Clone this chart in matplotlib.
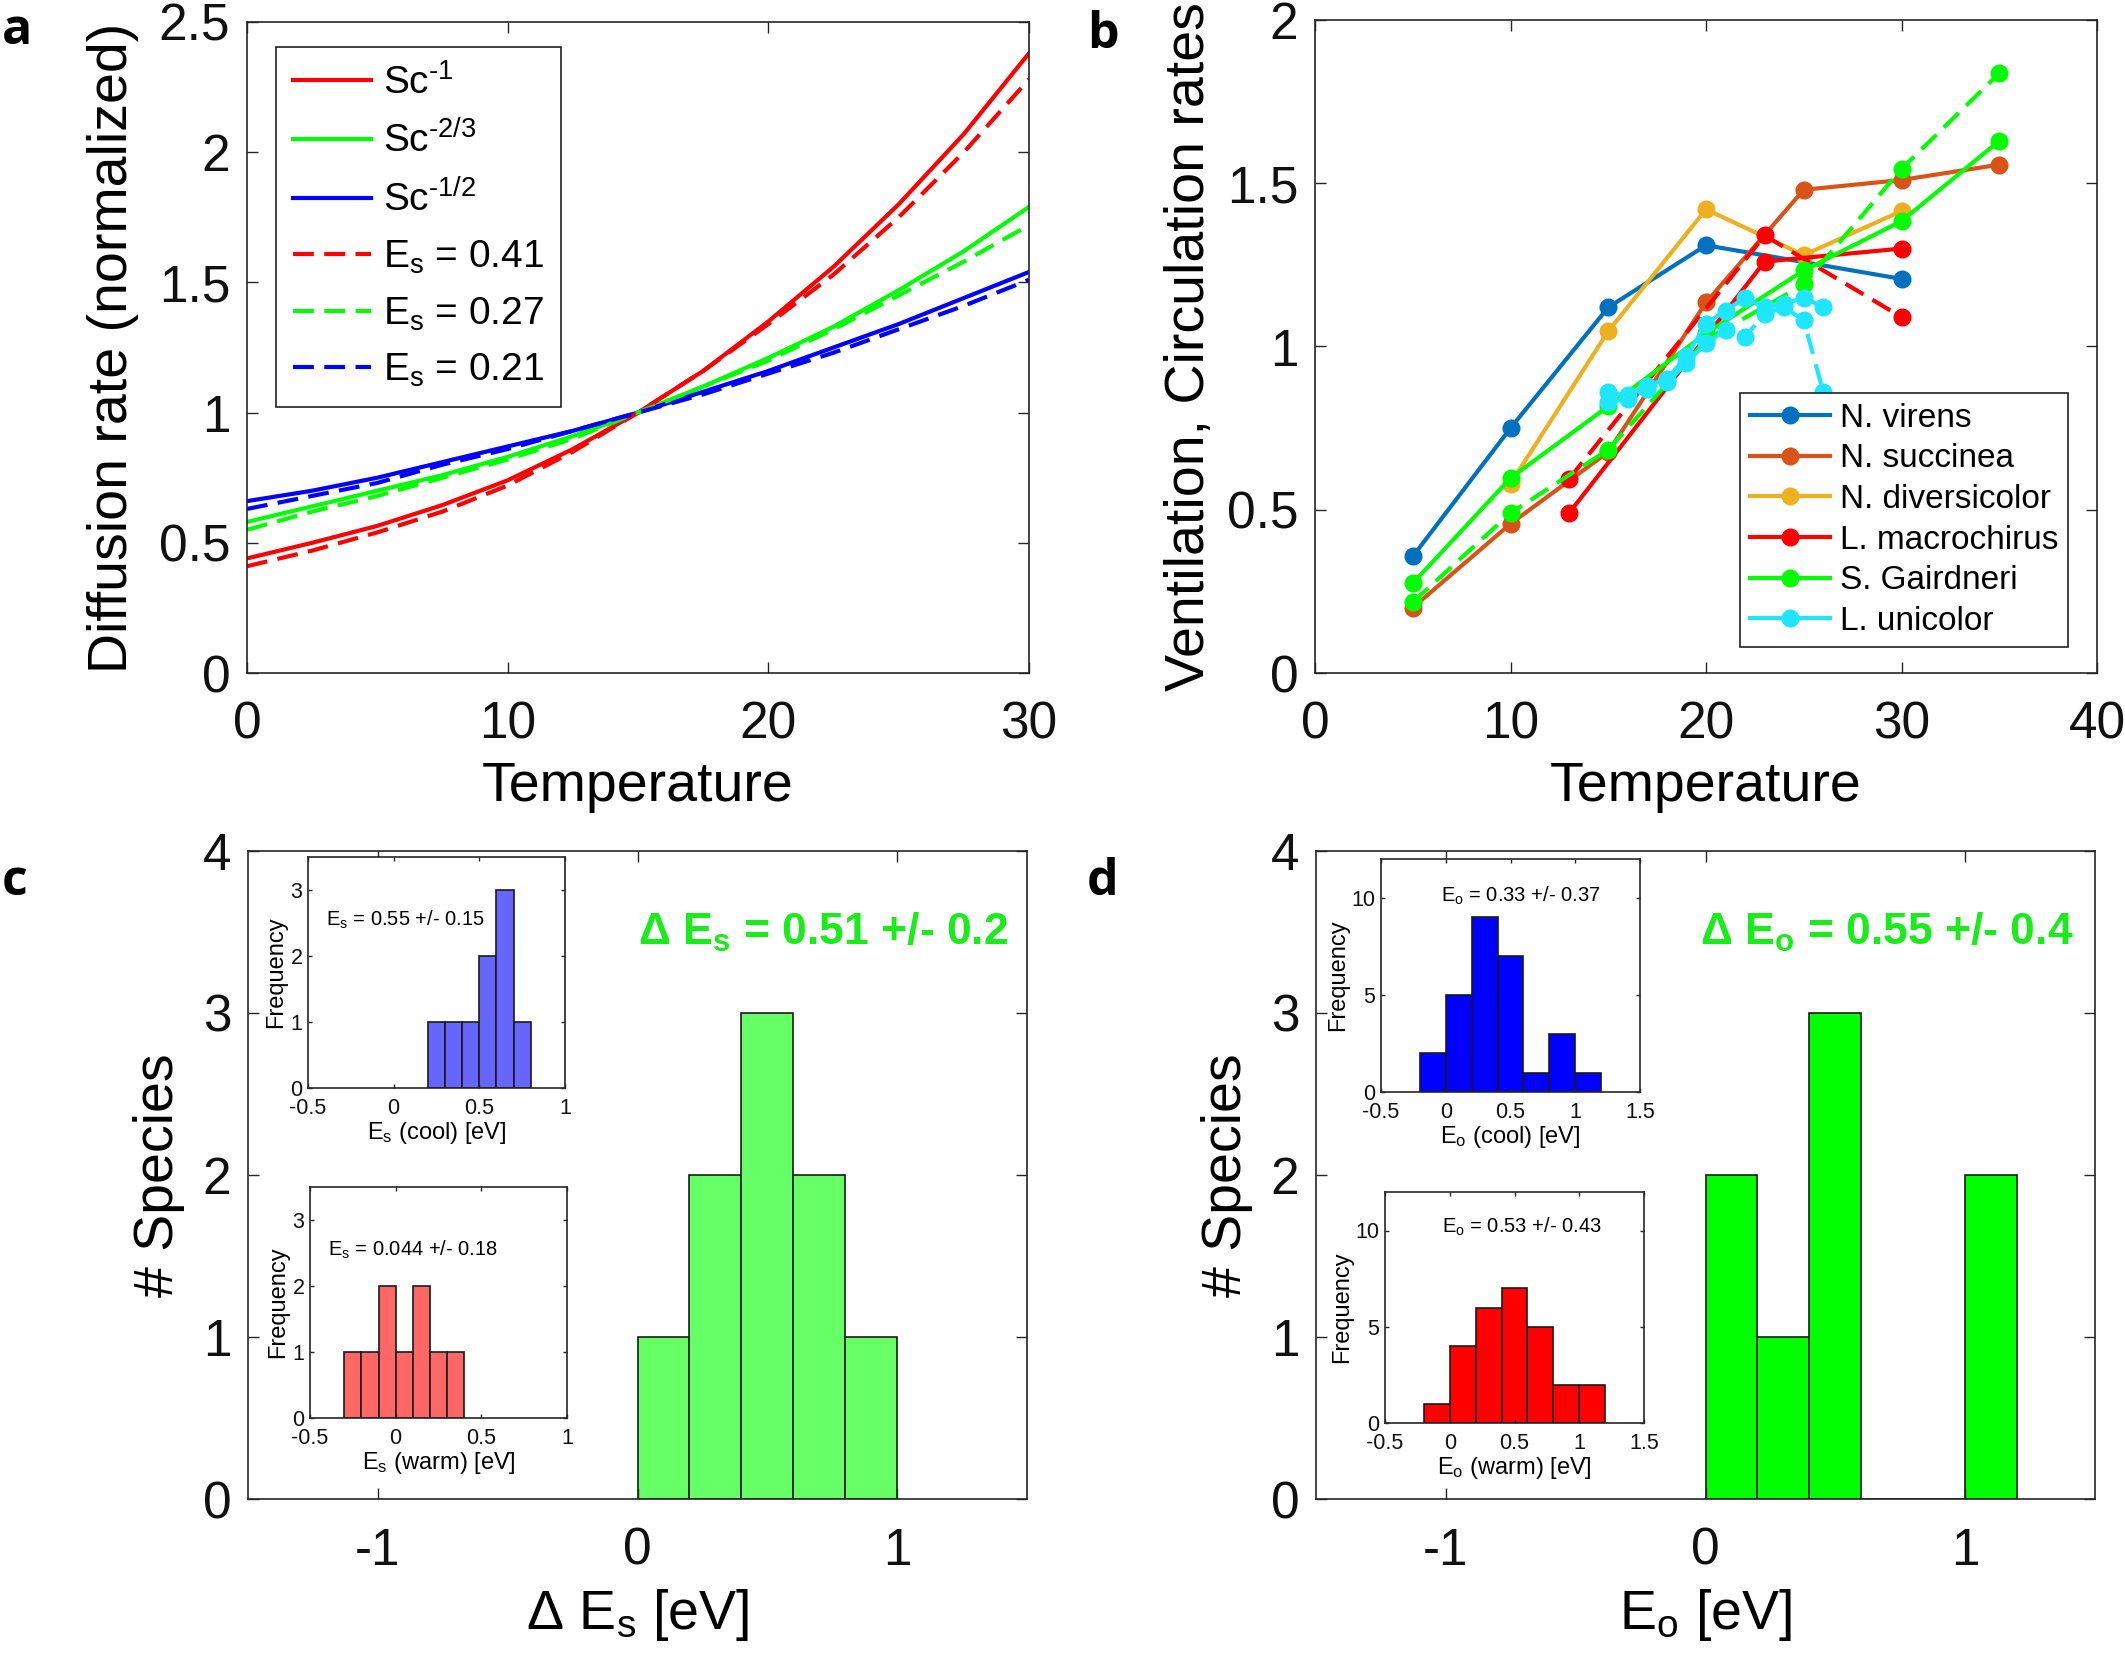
import numpy as np
import matplotlib
matplotlib.use('Agg')
import matplotlib.pyplot as plt
from matplotlib.ticker import FormatStrFormatter

plt.rcParams['font.family'] = ['Liberation Sans', 'DejaVu Sans']
plt.rcParams['mathtext.fontset'] = 'custom'
plt.rcParams['mathtext.rm'] = 'Liberation Sans'
plt.rcParams['mathtext.it'] = 'Liberation Sans'
plt.rcParams['mathtext.bf'] = 'Liberation Sans:bold'
plt.rcParams['mathtext.default'] = 'regular'
plt.rcParams['axes.unicode_minus'] = False

# ---- panel a: diffusion rate (normalized) vs temperature
temp_a = [0, 2.5, 5, 7.5, 10, 12.5, 15, 17.5, 20, 22.5, 25, 27.5, 30]
sc_1 = [0.44, 0.50, 0.565, 0.645, 0.74, 0.86, 1.0, 1.16, 1.35, 1.56, 1.80, 2.07, 2.38]
sc_23 = [0.58, 0.64, 0.70, 0.76, 0.83, 0.91, 1.0, 1.10, 1.21, 1.33, 1.47, 1.62, 1.79]
sc_12 = [0.66, 0.70, 0.75, 0.81, 0.87, 0.93, 1.0, 1.08, 1.16, 1.25, 1.34, 1.44, 1.54]
es_041 = [0.41, 0.47, 0.54, 0.62, 0.72, 0.85, 1.0, 1.16, 1.34, 1.53, 1.75, 2.00, 2.28]
es_027 = [0.55, 0.62, 0.68, 0.75, 0.82, 0.90, 1.0, 1.10, 1.20, 1.32, 1.45, 1.58, 1.72]
es_021 = [0.63, 0.68, 0.73, 0.80, 0.86, 0.93, 1.0, 1.07, 1.15, 1.23, 1.32, 1.41, 1.51]

# ---- panel b: ventilation / circulation rates
virens_t = [5, 10, 15, 20, 30]
virens_v = [0.357, 0.75, 1.12, 1.31, 1.207]
succinea_t = [5, 10, 15, 20, 25, 30, 35]
succinea_v = [0.20, 0.457, 0.677, 1.135, 1.48, 1.51, 1.557]
divers_t = [10, 15, 20, 25, 30]
divers_v = [0.58, 1.047, 1.42, 1.28, 1.415]
macro_t = [13, 23, 30]
macro_v = [0.49, 1.26, 1.30]
macro_t2 = [13, 23, 30]
macro_v2 = [0.595, 1.34, 1.09]
gaird_t = [5, 10, 15, 20, 25, 30, 35]
gaird_v = [0.275, 0.597, 0.817, 1.04, 1.233, 1.384, 1.63]
gaird_v2 = [0.217, 0.49, 0.684, 1.02, 1.19, 1.544, 1.837]
unic_t = [15, 16, 17, 18, 19, 20, 21, 22, 23, 24, 25, 26]
unic_v = [0.86, 0.85, 0.88, 0.90, 0.97, 1.07, 1.11, 1.15, 1.12, 1.13, 1.15, 1.12]
unic_v2 = [0.83, 0.84, 0.87, 0.89, 0.95, 1.01, 1.05, 1.03, 1.10, 1.12, 1.08, 0.86]

# ---- panel c: histograms of E_s
dEs_edges = [0, 0.2, 0.4, 0.6, 0.8, 1.0]
dEs_counts = [1, 2, 3, 2, 1]
es_cool_edges = [0.2, 0.3, 0.4, 0.5, 0.6, 0.7, 0.8]
es_cool_counts = [1, 1, 1, 2, 3, 1]
es_warm_edges = [-0.3, -0.2, -0.1, 0, 0.1, 0.2, 0.3, 0.4]
es_warm_counts = [1, 1, 2, 1, 2, 1, 1]

# ---- panel d: histograms of E_o
eo_edges = [0, 0.2, 0.4, 0.6, 0.8, 1.0, 1.2]
eo_counts = [2, 1, 3, 0, 0, 2]
eo_cool_edges = [-0.2, 0, 0.2, 0.4, 0.6, 0.8, 1.0, 1.2]
eo_cool_counts = [2, 5, 9, 7, 1, 3, 1]
eo_warm_edges = [-0.2, 0, 0.2, 0.4, 0.6, 0.8, 1.0, 1.2]
eo_warm_counts = [1, 4, 6, 7, 5, 2, 2]

W, H = 2125, 1669
fig = plt.figure(figsize=(W / 100, H / 100), dpi=100)


def box(l, t, r, b):
    return [l / W, 1 - b / H, (r - l) / W, (b - t) / H]


AX = '#262626'


def style(ax, fs, length=8, pad=20, ypad=12):
    ax.tick_params(direction='in', top=True, right=True, length=length, width=1,
                   color=AX, labelcolor='#111111', labelsize=fs)
    ax.tick_params(axis='x', pad=pad)
    ax.tick_params(axis='y', pad=ypad)
    for s in ax.spines.values():
        s.set_color(AX)
        s.set_linewidth(1.2)
    ax.xaxis.set_major_formatter(FormatStrFormatter('%g'))
    ax.yaxis.set_major_formatter(FormatStrFormatter('%g'))


def hist(ax, edges, counts, color):
    ax.bar(edges[:-1], counts, width=np.diff(edges), align='edge', color=color,
           edgecolor='#1a1a1a', linewidth=1.2)


LAB = 40
TCK = 37

# panel a
ax = fig.add_axes(box(247, 22, 1029, 673))
lw = 3
ax.plot(temp_a, sc_1, color='#ff0000', lw=lw, label=r'Sc$^{\text{-1}}$')
ax.plot(temp_a, sc_23, color='#00ff00', lw=lw, label=r'Sc$^{\text{-2/3}}$')
ax.plot(temp_a, sc_12, color='#0000ff', lw=lw, label=r'Sc$^{\text{-1/2}}$')
ax.plot(temp_a, es_041, color='#ff0000', lw=lw, dashes=(5, 2.5), label='E$_s$ = 0.41')
ax.plot(temp_a, es_027, color='#00ff00', lw=lw, dashes=(5, 2.5), label='E$_s$ = 0.27')
ax.plot(temp_a, es_021, color='#0000ff', lw=lw, dashes=(5, 2.5), label='E$_s$ = 0.21')
ax.set_xlim(0, 30)
ax.set_ylim(0, 2.5)
ax.set_xticks([0, 10, 20, 30])
ax.set_yticks([0, 0.5, 1, 1.5, 2, 2.5])
style(ax, TCK)
ax.set_xlabel('Temperature', fontsize=LAB, labelpad=8)
ax.set_ylabel('Diffusion rate (normalized)', fontsize=LAB, labelpad=14)
leg = ax.legend(loc='upper left', bbox_to_anchor=(0.037, 0.962), borderaxespad=0,
                fontsize=28, handlelength=2.0, labelspacing=0.5, handletextpad=0.3,
                fancybox=False, edgecolor='#222222', framealpha=1, borderpad=0.45)
leg.get_frame().set_linewidth(1.2)

# panel b
ax = fig.add_axes(box(1315, 20, 2097, 673))
mk = dict(marker='o', markersize=13, markeredgewidth=0, lw=3)
ax.plot(virens_t, virens_v, color='#0072bd', label='N. virens', **mk)
ax.plot(succinea_t, succinea_v, color='#d95319', label='N. succinea', **mk)
ax.plot(divers_t, divers_v, color='#edb120', label='N. diversicolor', **mk)
ax.plot(macro_t, macro_v, color='#ff0000', label='L. macrochirus', **mk)
ax.plot(macro_t2, macro_v2, color='#ff0000', dashes=(5, 2.5), **mk)
ax.plot(gaird_t, gaird_v, color='#00ff00', label='S. Gairdneri', **mk)
ax.plot(gaird_t, gaird_v2, color='#00ff00', dashes=(5, 2.5), **mk)
ax.plot(unic_t, unic_v, color='#1ee6ff', label='L. unicolor', **mk)
ax.plot(unic_t, unic_v2, color='#1ee6ff', dashes=(5, 2.5), **mk)
ax.set_xlim(0, 40)
ax.set_ylim(0, 2)
ax.set_xticks([0, 10, 20, 30, 40])
ax.set_yticks([0, 0.5, 1, 1.5, 2])
style(ax, TCK)
ax.set_xlabel('Temperature', fontsize=LAB, labelpad=8)
ax.set_ylabel('Ventilation, Circulation rates', fontsize=LAB, labelpad=8)
leg = ax.legend(loc='lower right', bbox_to_anchor=(0.963, 0.04), borderaxespad=0,
                fontsize=24, handlelength=2.4, labelspacing=0.29, handletextpad=0.3,
                fancybox=False, edgecolor='#222222', framealpha=1, borderpad=0.3)
leg.get_frame().set_linewidth(1.2)

# panel c
ax = fig.add_axes(box(248, 851, 1027, 1499))
hist(ax, dEs_edges, dEs_counts, '#66ff66')
ax.set_xlim(-1.5, 1.5)
ax.set_ylim(0, 4)
ax.set_xticks([-1, 0, 1])
ax.set_yticks([0, 1, 2, 3, 4])
style(ax, TCK)
ax.set_xlabel(r'$\Delta$ E$_s$ [eV]', fontsize=LAB, labelpad=8)
ax.set_ylabel('# Species', fontsize=LAB, labelpad=13)
ax.text(0.0, 3.5, r'$\Delta$ E$_\mathbf{s}$ = 0.51 +/- 0.2', color='#1aeb1a',
        fontsize=32, fontweight='bold', ha='left', va='center')

# panel d
ax = fig.add_axes(box(1316, 851, 2095, 1499))
hist(ax, eo_edges, eo_counts, '#00ff00')
ax.set_xlim(-1.5, 1.5)
ax.set_ylim(0, 4)
ax.set_xticks([-1, 0, 1])
ax.set_yticks([0, 1, 2, 3, 4])
style(ax, TCK)
ax.set_xlabel('E$_o$ [eV]', fontsize=LAB, labelpad=8)
ax.set_ylabel('# Species', fontsize=LAB, labelpad=13)
ax.text(-0.02, 3.5, r'$\Delta$ E$_\mathbf{o}$ = 0.55 +/- 0.4', color='#1aeb1a',
        fontsize=32, fontweight='bold', ha='left', va='center')

# insets
SM = 15.5
insets = [
    (box(308, 857, 565, 1088), es_cool_edges, es_cool_counts, '#6666ff',
     'E$_s$ (cool) [eV]', 'E$_s$ = 0.55 +/- 0.15', (0.07, 0.73), 'left',
     (-0.5, 1), [-0.5, 0, 0.5, 1], 3.5, [0, 1, 2, 3]),
    (box(310, 1187, 567, 1418), es_warm_edges, es_warm_counts, '#ff6666',
     'E$_s$ (warm) [eV]', 'E$_s$ = 0.044 +/- 0.18', (0.07, 0.73), 'left',
     (-0.5, 1), [-0.5, 0, 0.5, 1], 3.5, [0, 1, 2, 3]),
    (box(1381, 859, 1640, 1092), eo_cool_edges, eo_cool_counts, '#0000ff',
     'E$_o$ (cool) [eV]', 'E$_o$ = 0.33 +/- 0.37', (0.54, 0.84), 'center',
     (-0.5, 1.5), [-0.5, 0, 0.5, 1, 1.5], 12, [0, 5, 10]),
    (box(1385, 1192, 1644, 1423), eo_warm_edges, eo_warm_counts, '#ff0000',
     'E$_o$ (warm) [eV]', 'E$_o$ = 0.53 +/- 0.43', (0.53, 0.85), 'center',
     (-0.5, 1.5), [-0.5, 0, 0.5, 1, 1.5], 12, [0, 5, 10]),
]
for rect, edges, counts, col, xl, txt, tpos, tha, xlim, xt, ymax, yt in insets:
    ia = fig.add_axes(rect)
    hist(ia, edges, counts, col)
    ia.set_xlim(*xlim)
    ia.set_ylim(0, ymax)
    ia.set_xticks(xt)
    ia.set_yticks(yt)
    style(ia, SM, length=3, pad=7, ypad=4)
    ia.set_xlabel(xl, fontsize=17, labelpad=1)
    ia.set_ylabel('Frequency', fontsize=17, labelpad=2)
    ia.text(tpos[0], tpos[1], txt, transform=ia.transAxes, fontsize=14.5,
            ha=tha, va='center')

# panel letters
for lab, x, y in [('a', 2, 44), ('b', 1087, 48), ('c', 2, 895), ('d', 1087, 895)]:
    fig.text(x / W, 1 - y / H, lab, fontsize=36, fontweight='bold', ha='left',
             va='baseline', family=['Open Sans', 'DejaVu Sans'])

fig.savefig('out.png', dpi=100)
